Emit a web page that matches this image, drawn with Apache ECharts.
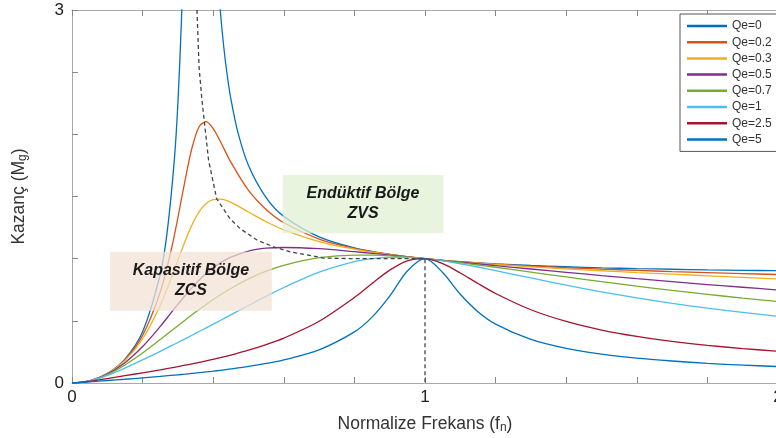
<!DOCTYPE html>
<html><head><meta charset="utf-8">
<script src="https://cdn.jsdelivr.net/npm/echarts@6/dist/echarts.min.js"></script>
<style>html,body{margin:0;padding:0;background:#fff}#c{width:776px;height:438px}</style>
</head><body><div id="c"></div>
<script>
// ---- data ----
const seriesNames = ['Qe=0','Qe=0.2','Qe=0.3','Qe=0.5','Qe=0.7','Qe=1','Qe=2.5','Qe=5'];

// normalized frequency samples shared by Qe=0.2 ... Qe=5
const fn = [0, 0.05, 0.1, 0.15, 0.2, 0.25, 0.28, 0.3, 0.32, 0.34, 0.36, 0.38, 0.4, 0.42, 0.45, 0.5, 0.55, 0.6, 0.7, 0.8, 0.85, 0.9, 0.95, 1, 1.05, 1.1, 1.15, 1.2, 1.3, 1.4, 1.5, 1.6, 1.7, 1.8, 1.9, 2];

// Qe=0 has its own samples (goes off the top of the chart near resonance)
const fnQe0   = [0, 0.05, 0.1, 0.15, 0.2, 0.25, 0.27, 0.29, 0.3, 0.31, 0.315, 0.354, 0.41, 0.42, 0.43, 0.44, 0.45, 0.47, 0.5, 0.55, 0.6, 0.7, 0.8, 0.9, 1, 1.1, 1.2, 1.3, 1.4, 1.5, 1.6, 1.7, 1.8, 1.9, 2];
const gainQe0 = [0, 0.018, 0.076, 0.192, 0.412, 0.875, 1.224, 1.799, 2.25, 2.91, 3.37, null, 3.41, 3.00, 2.70, 2.469, 2.286, 2.016, 1.75, 1.491, 1.340, 1.175, 1.087, 1.035, 1, 0.976, 0.958, 0.945, 0.935, 0.926, 0.920, 0.915, 0.910, 0.906, 0.903];

const gainQe02 = [0, 0.018, 0.075, 0.186, 0.383, 0.732, 1.057, 1.330, 1.626, 1.892, 2.061, 2.102, 2.046, 1.944, 1.776, 1.549, 1.395, 1.289, 1.158, 1.082, 1.056, 1.034, 1.016, 1, 0.987, 0.975, 0.965, 0.956, 0.940, 0.927, 0.916, 0.906, 0.896, 0.888, 0.880, 0.872];
const gainQe03 = [0, 0.018, 0.074, 0.180, 0.354, 0.624, 0.834, 0.987, 1.138, 1.272, 1.377, 1.444, 1.475, 1.479, 1.453, 1.375, 1.297, 1.232, 1.138, 1.076, 1.052, 1.033, 1.015, 1, 0.987, 0.974, 0.963, 0.953, 0.934, 0.918, 0.903, 0.888, 0.875, 0.862, 0.849, 0.837];
const gainQe05 = [0, 0.018, 0.071, 0.163, 0.293, 0.455, 0.562, 0.633, 0.702, 0.767, 0.827, 0.880, 0.927, 0.966, 1.012, 1.061, 1.084, 1.090, 1.080, 1.056, 1.043, 1.029, 1.014, 1, 0.986, 0.972, 0.958, 0.944, 0.917, 0.890, 0.864, 0.839, 0.815, 0.792, 0.770, 0.748];
const gainQe07 = [0, 0.017, 0.067, 0.145, 0.241, 0.349, 0.416, 0.461, 0.505, 0.549, 0.591, 0.632, 0.671, 0.708, 0.760, 0.837, 0.899, 0.947, 1.008, 1.029, 1.028, 1.023, 1.013, 1, 0.985, 0.968, 0.949, 0.931, 0.892, 0.853, 0.815, 0.779, 0.745, 0.713, 0.683, 0.655];
const gainQe1  = [0, 0.017, 0.061, 0.120, 0.186, 0.255, 0.298, 0.326, 0.355, 0.384, 0.414, 0.443, 0.473, 0.503, 0.548, 0.623, 0.697, 0.768, 0.892, 0.977, 1.000, 1.011, 1.010, 1, 0.982, 0.959, 0.933, 0.904, 0.845, 0.787, 0.733, 0.685, 0.641, 0.602, 0.568, 0.536];
const gainQe25 = [0, 0.013, 0.036, 0.059, 0.082, 0.106, 0.121, 0.132, 0.143, 0.154, 0.165, 0.178, 0.190, 0.204, 0.225, 0.264, 0.309, 0.361, 0.497, 0.688, 0.801, 0.908, 0.983, 1, 0.960, 0.885, 0.800, 0.720, 0.589, 0.495, 0.426, 0.375, 0.335, 0.303, 0.277, 0.256];
const gainQe5  = [0, 0.009, 0.020, 0.030, 0.042, 0.053, 0.061, 0.066, 0.071, 0.077, 0.083, 0.089, 0.095, 0.102, 0.113, 0.133, 0.157, 0.186, 0.267, 0.411, 0.530, 0.699, 0.901, 1, 0.889, 0.714, 0.574, 0.474, 0.350, 0.278, 0.232, 0.200, 0.177, 0.158, 0.144, 0.132];

// ZVS / ZCS boundary (dashed) and the vertical drop at fn = 1
const boundaryX = [0.354, 0.36, 0.368, 0.375, 0.387, 0.41, 0.429, 0.448, 0.477, 0.524, 0.571, 0.618, 0.666, 0.713, 0.8, 0.9, 1.0, 1.0];
const boundaryY = [3.0, 2.54, 2.28, 2.10, 1.79, 1.48, 1.40, 1.32, 1.24, 1.15, 1.095, 1.055, 1.03, 1.005, 1.0, 1.0, 1.0, 0];

// tick labels shown
const xTickLabels = [0, 1, 2];
const yTickLabels = [0, 3];

// region annotations (data coordinates)
const regionText = [['Kapasitif Bölge', 'ZCS'], ['Endüktif Bölge', 'ZVS']];
const regionXRange = [[0.108, 0.566], [0.597, 1.052]];
const regionYRange = [[0.582, 1.056], [1.204, 1.673]];

// ---- drawing ----
const colors = ['#0072BD','#D95319','#EDB120','#7E2F8E','#77AC30','#4DBEEE','#A2142F','#0072BD'];
const regionFill = ['rgba(242,224,210,0.72)', 'rgba(226,240,212,0.75)'];
const FONT = "'Liberation Sans', Arial, sans-serif";
const axisColor = '#a8a8a8';

function pairs(xs, ys){ return xs.map((x,i)=>[x, ys[i]]); }
const curveData = [pairs(fnQe0, gainQe0), pairs(fn, gainQe02), pairs(fn, gainQe03), pairs(fn, gainQe05),
                   pairs(fn, gainQe07), pairs(fn, gainQe1), pairs(fn, gainQe25), pairs(fn, gainQe5)];

const series = curveData.map((d,i)=>({
  name: seriesNames[i], type:'line', data:d, symbol:'none', smooth:0.3, connectNulls:false,
  lineStyle:{width:1.3, color:colors[i]}, itemStyle:{color:colors[i]}, clip:true, z:2
}));
series.push({
  name:'boundary', type:'line', data:pairs(boundaryX, boundaryY), symbol:'none', smooth:false,
  lineStyle:{width:1.3, color:'#444', type:[4,3]}, clip:true, z:3
});

const near = (v, arr) => arr.some(t => Math.abs(v - t) < 1e-6);

const chart = echarts.init(document.getElementById('c'), null, {renderer:'canvas'});
chart.setOption({
  animation:false,
  backgroundColor:'#ffffff',
  color: colors,
  grid:{left:72, top:10, width:706, height:373, containLabel:false, outerBoundsMode:'none'},
  xAxis:[{
    type:'value', min:0, max:2, interval:0.2, position:'bottom',
    axisLine:{show:true, onZero:false, lineStyle:{color:axisColor, width:1}},
    axisTick:{show:true, inside:true, length:6, lineStyle:{color:'#888'}},
    axisLabel:{fontSize:17, color:'#222', margin:6, fontFamily:FONT, hideOverlap:false,
      formatter:v => near(v, xTickLabels) ? String(Math.round(v)) : ''},
    splitLine:{show:false},
    name:'Normalize Frekans (f{s|n})', nameLocation:'middle', nameGap:32,
    nameTextStyle:{fontSize:17.5, color:'#333', fontFamily:FONT,
      rich:{s:{fontSize:12, color:'#333', fontFamily:FONT, verticalAlign:'bottom', padding:[7,0,0,0]}}}
  },{
    type:'value', min:0, max:2, interval:0.2, position:'top',
    axisLine:{show:true, onZero:false, lineStyle:{color:axisColor, width:1}},
    axisTick:{show:true, inside:true, length:6, lineStyle:{color:'#888'}},
    axisLabel:{show:false}, splitLine:{show:false}
  }],
  yAxis:{
    type:'value', min:0, max:3, interval:0.5,
    axisLine:{show:true, onZero:false, lineStyle:{color:axisColor, width:1}},
    axisTick:{show:true, inside:true, length:6, lineStyle:{color:'#888'}},
    axisLabel:{fontSize:17, color:'#222', margin:8, fontFamily:FONT,
      formatter:v => near(v, yTickLabels) ? String(Math.round(v)) : ''},
    splitLine:{show:false},
    name:'Kazanç (M{s|g})', nameLocation:'middle', nameGap:43,
    nameTextStyle:{fontSize:17.5, color:'#333', fontFamily:FONT,
      rich:{s:{fontSize:12, color:'#333', fontFamily:FONT, verticalAlign:'bottom', padding:[7,0,0,0]}}}
  },
  legend:{
    data:seriesNames, orient:'vertical', left:680, top:14,
    padding:[5,8,5,7], itemGap:2.2, itemWidth:40, itemHeight:2.5, icon:'rect',
    borderColor:'#555', borderWidth:1, backgroundColor:'#fff',
    textStyle:{fontSize:12, color:'#333', fontFamily:FONT, lineHeight:14}
  },
  series: series
});

// region boxes placed through the chart's own scales
const P = (x,y) => chart.convertToPixel({xAxisIndex:0, yAxisIndex:0}, [x,y]);
const graphics = [];
regionText.forEach((lines, i) => {
  const a = P(regionXRange[i][0], regionYRange[i][1]);
  const b = P(regionXRange[i][1], regionYRange[i][0]);
  graphics.push({type:'rect', z:50, shape:{x:a[0], y:a[1], width:b[0]-a[0], height:b[1]-a[1]},
    style:{fill:regionFill[i]}, silent:true});
  graphics.push({type:'text', z:51, x:(a[0]+b[0])/2, y:(a[1]+b[1])/2 - 1,
    style:{text:lines.join('\n'), fill:'#1a1a1a', font:"italic bold 16px 'Liberation Sans', Arial, sans-serif",
      textAlign:'center', textVerticalAlign:'middle', lineHeight:20}, silent:true});
});
chart.setOption({graphic:graphics});
</script></body></html>
